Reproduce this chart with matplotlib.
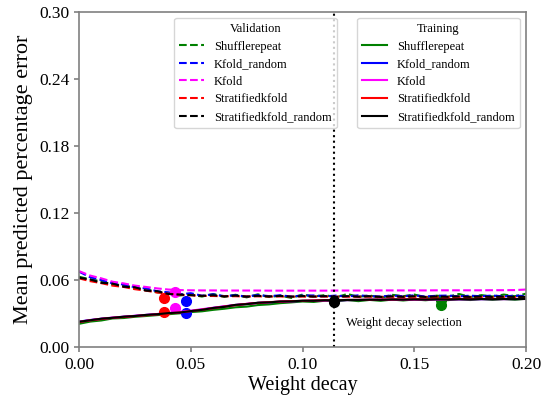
import matplotlib
matplotlib.use('Agg')
import matplotlib.pyplot as plt
from matplotlib.lines import Line2D

plt.rcParams['font.family'] = ['Liberation Serif', 'DejaVu Serif']

# weight decay grid
x = [0.000, 0.005, 0.010, 0.015, 0.020, 0.025, 0.030, 0.035, 0.040, 0.045,
     0.050, 0.055, 0.060, 0.065, 0.070, 0.075, 0.080, 0.085, 0.090, 0.095,
     0.100, 0.105, 0.110, 0.115, 0.120, 0.125, 0.130, 0.135, 0.140, 0.145,
     0.150, 0.155, 0.160, 0.165, 0.170, 0.175, 0.180, 0.185, 0.190, 0.195,
     0.200]

names = ['Shufflerepeat', 'Kfold_random', 'Kfold', 'Stratifiedkfold', 'Stratifiedkfold_random']
colors = ['green', 'blue', 'magenta', 'red', 'black']

# validation error curves
val_shuffle = [0.0630, 0.0605, 0.0590, 0.0560, 0.0555, 0.0530, 0.0520, 0.0490, 0.0485, 0.0462,
               0.0470, 0.0452, 0.0475, 0.0450, 0.0468, 0.0445, 0.0472, 0.0448, 0.0460, 0.0440,
               0.0470, 0.0452, 0.0465, 0.0445, 0.0475, 0.0450, 0.0462, 0.0440, 0.0468, 0.0455,
               0.0470, 0.0445, 0.0460, 0.0450, 0.0475, 0.0448, 0.0465, 0.0452, 0.0470, 0.0455,
               0.0478]
val_kfold_random = [0.0675, 0.0625, 0.0600, 0.0570, 0.0560, 0.0535, 0.0525, 0.0500, 0.0490, 0.0472,
                    0.0482, 0.0460, 0.0472, 0.0456, 0.0464, 0.0452, 0.0466, 0.0456, 0.0463, 0.0453,
                    0.0461, 0.0462, 0.0454, 0.0461, 0.0453, 0.0463, 0.0456, 0.0453, 0.0461, 0.0455,
                    0.0463, 0.0453, 0.0459, 0.0461, 0.0454, 0.0460, 0.0455, 0.0461, 0.0454, 0.0460,
                    0.0457]
val_kfold = [0.0680, 0.0640, 0.0615, 0.0585, 0.0570, 0.0550, 0.0538, 0.0525, 0.0515, 0.0510,
             0.0508, 0.0507, 0.0507, 0.0506, 0.0506, 0.0506, 0.0506, 0.0505, 0.0505, 0.0505,
             0.0505, 0.0505, 0.0505, 0.0506, 0.0506, 0.0506, 0.0506, 0.0507, 0.0507, 0.0507,
             0.0507, 0.0507, 0.0508, 0.0508, 0.0508, 0.0508, 0.0508, 0.0509, 0.0509, 0.0510,
             0.0515]
val_strat = [0.0615, 0.0590, 0.0572, 0.0550, 0.0538, 0.0518, 0.0505, 0.0488, 0.0478, 0.0468,
             0.0463, 0.0458, 0.0457, 0.0455, 0.0455, 0.0453, 0.0454, 0.0452, 0.0453, 0.0451,
             0.0452, 0.0451, 0.0452, 0.0450, 0.0451, 0.0450, 0.0451, 0.0449, 0.0450, 0.0449,
             0.0450, 0.0448, 0.0449, 0.0448, 0.0449, 0.0447, 0.0448, 0.0447, 0.0448, 0.0447,
             0.0446]
val_strat_random = [0.0620, 0.0605, 0.0575, 0.0568, 0.0540, 0.0535, 0.0505, 0.0500, 0.0475, 0.0470,
                    0.0465, 0.0458, 0.0464, 0.0453, 0.0461, 0.0451, 0.0459, 0.0453, 0.0458, 0.0451,
                    0.0457, 0.0452, 0.0456, 0.0450, 0.0456, 0.0451, 0.0455, 0.0449, 0.0454, 0.0450,
                    0.0455, 0.0449, 0.0453, 0.0450, 0.0454, 0.0449, 0.0453, 0.0449, 0.0452, 0.0449,
                    0.0450]

# training error curves
tr_shuffle = [0.0208, 0.0228, 0.0238, 0.0256, 0.0260, 0.0271, 0.0278, 0.0286, 0.0294, 0.0302,
              0.0313, 0.0320, 0.0333, 0.0343, 0.0356, 0.0362, 0.0376, 0.0382, 0.0393, 0.0400,
              0.0408, 0.0404, 0.0415, 0.0408, 0.0420, 0.0411, 0.0422, 0.0414, 0.0425, 0.0417,
              0.0426, 0.0419, 0.0428, 0.0420, 0.0428, 0.0421, 0.0430, 0.0423, 0.0430, 0.0424,
              0.0432]
tr_kfold_random = [0.0228, 0.0242, 0.0253, 0.0262, 0.0271, 0.0279, 0.0287, 0.0295, 0.0303, 0.0310,
                   0.0322, 0.0336, 0.0350, 0.0364, 0.0376, 0.0386, 0.0395, 0.0401, 0.0406, 0.0410,
                   0.0413, 0.0416, 0.0418, 0.0419, 0.0421, 0.0422, 0.0423, 0.0424, 0.0425, 0.0425,
                   0.0426, 0.0427, 0.0427, 0.0428, 0.0428, 0.0429, 0.0429, 0.0430, 0.0430, 0.0430,
                   0.0431]
tr_kfold = [0.0226, 0.0241, 0.0254, 0.0264, 0.0272, 0.0280, 0.0288, 0.0296, 0.0305, 0.0315,
            0.0326, 0.0339, 0.0352, 0.0365, 0.0377, 0.0387, 0.0395, 0.0401, 0.0406, 0.0410,
            0.0413, 0.0415, 0.0417, 0.0419, 0.0420, 0.0421, 0.0422, 0.0423, 0.0424, 0.0425,
            0.0425, 0.0426, 0.0427, 0.0427, 0.0428, 0.0428, 0.0429, 0.0429, 0.0429, 0.0430,
            0.0430]
tr_strat = [0.0224, 0.0239, 0.0251, 0.0261, 0.0269, 0.0277, 0.0285, 0.0293, 0.0301, 0.0310,
            0.0321, 0.0334, 0.0348, 0.0362, 0.0375, 0.0386, 0.0395, 0.0402, 0.0407, 0.0411,
            0.0414, 0.0417, 0.0419, 0.0421, 0.0422, 0.0423, 0.0424, 0.0425, 0.0426, 0.0427,
            0.0428, 0.0428, 0.0429, 0.0429, 0.0430, 0.0430, 0.0431, 0.0431, 0.0431, 0.0432,
            0.0432]
tr_strat_random = [0.0226, 0.0240, 0.0254, 0.0262, 0.0272, 0.0278, 0.0288, 0.0294, 0.0304, 0.0309,
                   0.0322, 0.0333, 0.0350, 0.0360, 0.0378, 0.0384, 0.0397, 0.0400, 0.0408, 0.0409,
                   0.0415, 0.0414, 0.0419, 0.0418, 0.0422, 0.0421, 0.0424, 0.0422, 0.0426, 0.0424,
                   0.0427, 0.0425, 0.0428, 0.0426, 0.0429, 0.0427, 0.0430, 0.0428, 0.0430, 0.0429,
                   0.0431]

val_curves = [val_shuffle, val_kfold_random, val_kfold, val_strat, val_strat_random]
tr_curves = [tr_shuffle, tr_kfold_random, tr_kfold, tr_strat, tr_strat_random]

# selected weight decay per method (dots)
sel_x = [0.162, 0.048, 0.043, 0.038, 0.114]
sel_val = [0.0376, 0.0412, 0.0490, 0.0439, 0.0400]
sel_tr = [0.0420, 0.0304, 0.0349, 0.0313, 0.0415]
selection_line = 0.114

fig = plt.figure(figsize=(5.52, 3.98), dpi=100)
ax = fig.add_axes([0.1431, 0.128, 0.810, 0.842])

for i in range(len(names)):
    ax.plot(x, val_curves[i], '--', color=colors[i], lw=1.5)
    ax.plot(x, tr_curves[i], '-', color=colors[i], lw=1.5)
    ax.plot(sel_x[i], sel_val[i], 'o', color=colors[i], ms=7)
    ax.plot(sel_x[i], sel_tr[i], 'o', color=colors[i], ms=7)

ax.axvline(selection_line, color='black', ls=':', lw=1.5)
ax.text(0.1195, 0.0215, 'Weight decay selection', fontsize=9, va='center')

ax.set_xlim(0, 0.2)
ax.set_ylim(0, 0.3)
ax.set_xticks([0.0, 0.05, 0.1, 0.15, 0.2])
ax.set_xticklabels(['0.00', '0.05', '0.10', '0.15', '0.20'])
ax.set_yticks([0.0, 0.06, 0.12, 0.18, 0.24, 0.3])
ax.set_yticklabels(['0.00', '0.06', '0.12', '0.18', '0.24', '0.30'])
ax.tick_params(labelsize=12.5, color='gray', width=1.2)
for s in ax.spines.values():
    s.set_color('gray')
    s.set_linewidth(1.2)
ax.set_xlabel('Weight decay', fontsize=14.5, labelpad=2)
ax.set_ylabel('Mean predicted percentage error', fontsize=16, labelpad=4)

val_handles = [Line2D([0], [0], color=c, ls='--', lw=1.5) for c in colors]
tr_handles = [Line2D([0], [0], color=c, ls='-', lw=1.5) for c in colors]
leg1 = ax.legend(val_handles, names, title='Validation', fontsize=9, title_fontsize=9,
                 loc='upper left', bbox_to_anchor=(0.2125, 0.982), borderaxespad=0,
                 labelspacing=0.45)
ax.add_artist(leg1)
ax.legend(tr_handles, names, title='Training', fontsize=9, title_fontsize=9,
          loc='upper left', bbox_to_anchor=(0.622, 0.982), borderaxespad=0,
          labelspacing=0.45)

fig.savefig('out.png', dpi=100)
